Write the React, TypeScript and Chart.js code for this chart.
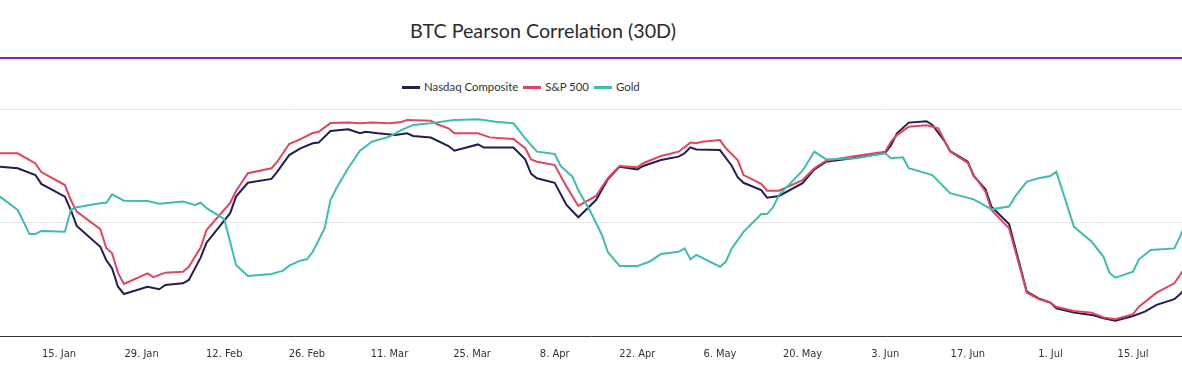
import React, { useEffect, useRef } from "react";
import { Chart, registerables } from "chart.js";

Chart.register(...registerables);

const chartTitle = "BTC Pearson Correlation (30D)";
const seriesNames = ["Nasdaq Composite", "S&P 500", "Gold"];
const seriesColors = ["#221f50", "#e0455f", "#3fbcb0"];

// x values are day-of-year for 2024 (1 Jan = 0)
const xTickDays = [14, 28, 42, 56, 70, 84, 98, 112, 126, 140, 154, 168, 182, 196];
const xTickLabels = [
  "15. Jan", "29. Jan", "12. Feb", "26. Feb", "11. Mar", "25. Mar", "8. Apr",
  "22. Apr", "6. May", "20. May", "3. Jun", "17. Jun", "1. Jul", "15. Jul",
];

const nasdaqDays = [
  4, 7, 10, 11, 15, 16, 17, 21, 22, 23, 24, 25, 29, 31, 32, 35, 36, 38, 39, 43,
  44, 46, 50, 51, 53, 55, 57, 58, 60, 63, 65, 66, 68, 71, 73, 74, 77, 80, 81, 85,
  86, 91, 93, 94, 95, 98, 100, 102, 105, 107, 109, 112, 113, 116, 119, 120, 121, 122, 126, 128,
  129, 130, 133, 134, 136, 140, 142, 144, 149, 154, 155, 156, 158, 161, 162, 164, 165, 168, 169, 171,
  172, 175, 178, 180, 182, 183, 186, 189, 191, 193, 196, 198, 200, 203, 204, 205,
];
const nasdaqCorr = [
  0.746, 0.739, 0.709, 0.67, 0.614, 0.555, 0.485, 0.393, 0.335, 0.298, 0.217, 0.185, 0.217, 0.206, 0.225, 0.232, 0.247, 0.345, 0.411, 0.541,
  0.614, 0.675, 0.692, 0.724, 0.797, 0.828, 0.849, 0.852, 0.903, 0.911, 0.893, 0.9, 0.893, 0.885, 0.893, 0.881, 0.874, 0.837, 0.816, 0.844,
  0.83, 0.83, 0.778, 0.714, 0.695, 0.675, 0.577, 0.523, 0.599, 0.69, 0.746, 0.734, 0.749, 0.775, 0.79, 0.805, 0.831, 0.822, 0.819, 0.75,
  0.7, 0.675, 0.643, 0.609, 0.617, 0.673, 0.734, 0.768, 0.785, 0.807, 0.841, 0.893, 0.94, 0.946, 0.93, 0.861, 0.815, 0.768, 0.705, 0.646,
  0.57, 0.493, 0.195, 0.166, 0.147, 0.122, 0.103, 0.093, 0.078, 0.067, 0.088, 0.107, 0.137, 0.162, 0.185, 0.215,
];

const spDays = [
  4, 7, 10, 11, 15, 16, 17, 21, 22, 23, 24, 25, 29, 30, 32, 35, 36, 38, 39, 43,
  44, 46, 50, 51, 53, 55, 57, 58, 60, 63, 65, 67, 70, 72, 73, 77, 78, 80, 81, 85,
  87, 91, 93, 94, 95, 98, 100, 102, 105, 107, 109, 112, 113, 116, 119, 121, 122, 123, 126, 127,
  129, 130, 133, 134, 136, 140, 142, 144, 149, 154, 155, 156, 158, 161, 163, 165, 168, 169, 171, 172,
  175, 178, 180, 182, 183, 186, 189, 191, 193, 196, 197, 200, 203, 204, 205,
];
const spCorr = [
  0.805, 0.805, 0.76, 0.722, 0.665, 0.599, 0.548, 0.471, 0.388, 0.364, 0.278, 0.229, 0.276, 0.259, 0.279, 0.283, 0.305, 0.39, 0.467, 0.586,
  0.639, 0.717, 0.739, 0.768, 0.846, 0.868, 0.894, 0.9, 0.938, 0.94, 0.937, 0.941, 0.937, 0.943, 0.952, 0.948, 0.934, 0.915, 0.893, 0.893,
  0.875, 0.868, 0.827, 0.778, 0.768, 0.753, 0.658, 0.573, 0.617, 0.695, 0.749, 0.743, 0.761, 0.793, 0.812, 0.852, 0.849, 0.856, 0.863, 0.827,
  0.775, 0.709, 0.67, 0.64, 0.64, 0.687, 0.739, 0.772, 0.793, 0.812, 0.856, 0.885, 0.922, 0.928, 0.915, 0.812, 0.763, 0.709, 0.636, 0.555,
  0.474, 0.191, 0.163, 0.146, 0.129, 0.11, 0.103, 0.082, 0.074, 0.096, 0.129, 0.191, 0.232, 0.27, 0.31,
];

const goldDays = [
  4, 7, 9, 10, 11, 15, 16, 17, 21, 22, 23, 25, 29, 31, 35, 37, 38, 39, 42, 43,
  44, 46, 50, 52, 53, 55, 56, 57, 59, 60, 61, 63, 65, 67, 70, 72, 74, 77, 80, 81,
  85, 88, 91, 93, 94, 95, 98, 99, 101, 102, 103, 104, 106, 107, 109, 112, 114, 116, 119, 120,
  121, 122, 126, 127, 128, 130, 133, 134, 135, 136, 140, 142, 144, 149, 154, 155, 157, 158, 162, 165,
  169, 171, 172, 175, 176, 178, 180, 182, 183, 186, 189, 191, 192, 193, 196, 197, 199, 203, 204, 205,
];
const goldCorr = [
  0.614, 0.555, 0.449, 0.449, 0.463, 0.459, 0.555, 0.567, 0.585, 0.587, 0.624, 0.596, 0.595, 0.583, 0.592, 0.577, 0.587, 0.563, 0.515, 0.414,
  0.313, 0.264, 0.273, 0.288, 0.31, 0.333, 0.338, 0.371, 0.474, 0.599, 0.651, 0.739, 0.816, 0.856, 0.878, 0.907, 0.93, 0.937, 0.948, 0.952,
  0.955, 0.944, 0.937, 0.871, 0.841, 0.812, 0.802, 0.749, 0.702, 0.643, 0.596, 0.551, 0.445, 0.37, 0.308, 0.308, 0.327, 0.361, 0.371, 0.386,
  0.338, 0.357, 0.305, 0.327, 0.386, 0.459, 0.537, 0.537, 0.567, 0.621, 0.728, 0.812, 0.778, 0.783, 0.805, 0.783, 0.787, 0.739, 0.709, 0.629,
  0.602, 0.573, 0.558, 0.57, 0.614, 0.68, 0.695, 0.705, 0.724, 0.481, 0.415, 0.349, 0.279, 0.257, 0.283, 0.338, 0.379, 0.386, 0.44, 0.5,
];

const seriesDays = [nasdaqDays, spDays, goldDays];
const seriesValues = [nasdaqCorr, spCorr, goldCorr];

const FONT = "Lato, 'Noto Sans', sans-serif";

export default function App() {
  const canvasRef = useRef<HTMLCanvasElement | null>(null);

  useEffect(() => {
    const canvas = canvasRef.current;
    if (!canvas) return;
    const chart = new Chart(canvas, {
      type: "line",
      data: {
        datasets: seriesNames.map((name, s) => ({
          label: name,
          data: seriesDays[s].map((d, i) => ({ x: d, y: seriesValues[s][i] })),
          borderColor: seriesColors[s],
          backgroundColor: seriesColors[s],
          borderWidth: 2,
          pointRadius: 0,
          tension: 0,
          fill: false,
          order: 3 - s,
        })),
      },
      options: {
        animation: false,
        responsive: false,
        maintainAspectRatio: false,
        layout: { padding: { top: 4, left: 0, right: 0, bottom: 0 } },
        plugins: {
          legend: { display: false },
          tooltip: { enabled: false },
          title: { display: false },
        },
        scales: {
          x: {
            type: "linear",
            min: 4,
            max: 204.3,
            afterBuildTicks: (scale: any) => {
              scale.ticks = xTickDays.map((v) => ({ value: v }));
            },
            afterFit: (scale: any) => {
              scale.height = 34;
            },
            ticks: {
              autoSkip: false,
              maxRotation: 0,
              padding: 12,
              color: "#333333",
              font: { family: "'Liberation Sans Narrow', 'DejaVu Sans Condensed', 'Roboto', sans-serif", size: 11 },
              callback: (v: any) => {
                const i = xTickDays.indexOf(Number(v));
                return i >= 0 ? xTickLabels[i] : "";
              },
            },
            grid: { display: false, drawTicks: false },
            border: { display: true, color: "#333333", width: 1 },
          },
          y: {
            min: 0,
            max: 1,
            afterFit: (scale: any) => {
              scale.width = 0;
            },
            ticks: { display: false, stepSize: 0.5 },
            grid: { color: "#e6e6e6", drawTicks: false, lineWidth: 1 },
            border: { display: false },
          },
        },
      },
    });
    return () => chart.destroy();
  }, []);

  return (
    <div style={{ position: "absolute", left: 0, top: 0, width: 1182, height: 370, background: "#ffffff", overflow: "hidden" }}>
      <div
        style={{
          position: "absolute",
          left: 0,
          top: 18,
          width: 1086,
          textAlign: "center",
          fontFamily: FONT,
          fontSize: 19.7,
          lineHeight: "26px",
          color: "#2b2b2b",
        }}
      >
        {chartTitle}
      </div>
      <div style={{ position: "absolute", left: 0, top: 57, width: 1182, height: 2, background: "#8c1ebe" }} />
      <div
        style={{
          position: "absolute",
          left: 402,
          top: 79,
          display: "flex",
          alignItems: "center",
          fontFamily: FONT,
          fontSize: 11.4,
          lineHeight: "16px",
          color: "#333333",
        }}
      >
        {seriesNames.map((name, s) => (
          <div key={name} style={{ display: "flex", alignItems: "center", marginRight: 5 }}>
            <span style={{ display: "inline-block", width: 18, height: 3, background: seriesColors[s], marginRight: 4 }} />
            <span>{name}</span>
          </div>
        ))}
      </div>
      <canvas ref={canvasRef} width={1182} height={265} style={{ position: "absolute", left: 0, top: 105, width: 1182, height: 265 }} />
    </div>
  );
}
